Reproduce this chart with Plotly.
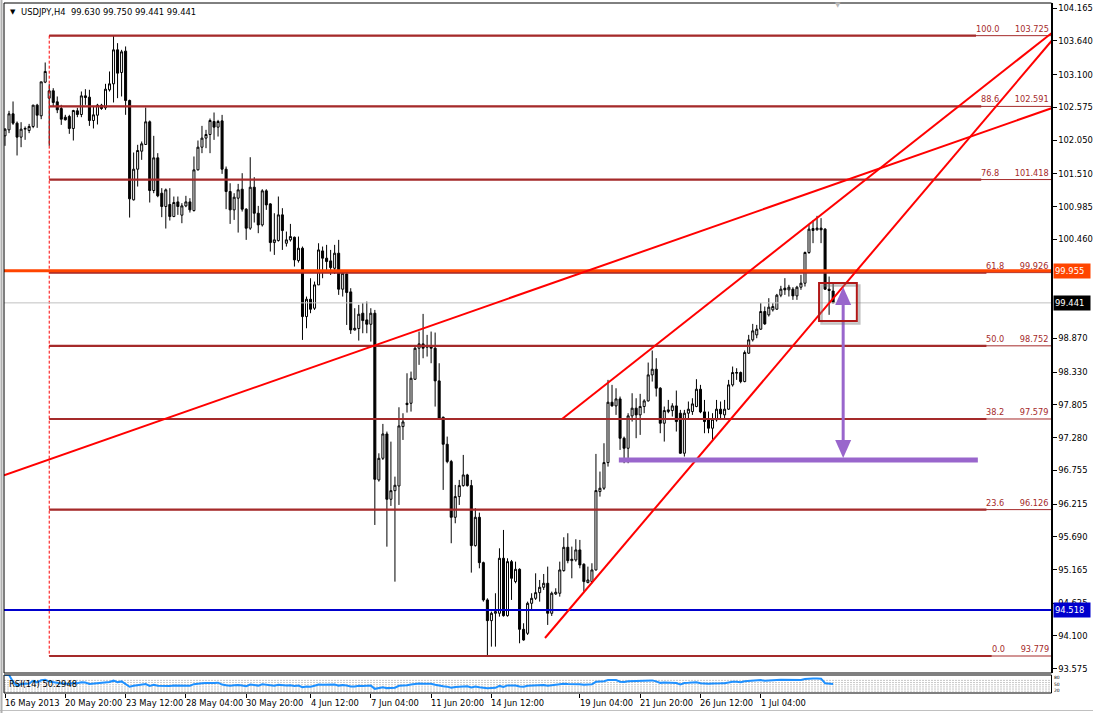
import numpy as np
import plotly.graph_objects as go

# ---------------- data ----------------
open_ = [102.119, 102.215, 102.472, 102.322, 102.098, 102.226, 102.205, 102.269, 102.611, 102.440,
         102.980, 102.723, 102.841, 102.664, 102.557, 102.418, 102.429, 102.237, 102.520, 102.461,
         102.760, 102.739, 102.365, 102.450, 102.611, 102.568, 102.857, 102.953, 103.498, 103.135,
         103.477, 102.686, 101.093, 101.584, 101.873, 101.980, 102.344, 101.242, 101.766, 101.199,
         100.986, 101.018, 100.825, 101.060, 100.847, 100.996, 101.060, 100.921, 101.574, 101.937,
         102.082, 102.140, 102.349, 102.258, 102.359, 101.584, 101.226, 100.932, 101.119, 101.263,
         100.943, 100.638, 101.295, 100.878, 100.691, 101.237, 101.028, 100.408, 100.440, 100.852,
         100.397, 100.451, 100.493, 100.119, 100.317, 99.221, 99.499, 99.355, 99.729, 100.274,
         100.157, 100.114, 99.996, 100.237, 99.660, 99.905, 99.617, 99.007, 99.029, 99.275,
         99.168, 99.098, 99.275, 96.602, 96.949, 97.339, 96.292, 96.430, 96.505, 97.457,
         97.831, 97.831, 98.216, 98.714, 98.783, 98.730, 98.751, 98.714, 98.190, 97.607,
         97.174, 96.896, 96.003, 96.335, 96.511, 96.682, 96.511, 95.549, 96.003, 95.276,
         94.678, 94.346, 94.464, 94.464, 95.346, 94.426, 95.292, 94.972, 95.169, 94.207,
         94.143, 94.624, 94.704, 94.795, 94.881, 94.945, 94.464, 94.774, 94.785, 95.148,
         95.522, 95.308, 95.319, 95.480, 95.250, 94.956, 94.972, 95.159, 96.415, 96.469,
         96.880, 97.848, 97.789, 97.901, 97.271, 97.110, 97.629, 97.752, 97.645, 97.779,
         97.869, 98.286, 98.377, 98.073, 97.511, 97.698, 97.714, 97.789, 97.672, 97.030,
         97.672, 97.698, 97.779, 98.056, 97.693, 97.565, 97.431, 97.565, 97.736, 97.645,
         97.736, 98.126, 98.313, 98.324, 98.179, 98.634, 98.848, 98.928, 99.019, 99.302,
         99.249, 99.329, 99.340, 99.564, 99.676, 99.650, 99.660, 99.553, 99.692, 99.756,
         100.248, 100.601, 100.612, 100.639, 100.623, 99.660, 99.630]
high = [102.242, 102.520, 102.670, 102.349, 102.338, 102.269, 102.311, 102.616, 102.632, 102.985,
        103.295, 102.948, 102.883, 102.750, 102.616, 102.456, 102.456, 102.536, 102.568, 102.830,
        102.867, 102.857, 102.589, 102.632, 102.632, 102.953, 103.151, 103.723, 103.605, 103.498,
        103.552, 102.700, 101.852, 101.975, 102.028, 102.573, 102.365, 102.119, 101.841, 101.280,
        101.274, 101.280, 101.146, 101.146, 101.039, 101.157, 101.119, 101.788, 102.044, 102.279,
        102.215, 102.397, 102.493, 102.375, 102.455, 101.627, 101.359, 101.199, 101.349, 101.520,
        100.959, 101.776, 101.456, 100.996, 101.263, 101.263, 101.040, 100.878, 101.146, 100.959,
        100.584, 100.707, 100.504, 100.504, 100.344, 99.542, 99.836, 99.782, 100.397, 100.344,
        100.371, 100.290, 100.371, 100.451, 99.943, 99.916, 99.676, 99.355, 99.408, 99.435,
        99.462, 99.355, 99.328, 97.029, 97.500, 97.377, 97.216, 96.655, 97.767, 97.671,
        98.312, 98.339, 98.740, 98.981, 99.264, 98.928, 98.981, 98.965, 98.473, 97.618,
        97.297, 96.923, 96.522, 96.602, 97.003, 96.700, 96.602, 96.148, 96.078, 95.292,
        94.704, 94.491, 94.785, 95.506, 95.800, 95.346, 95.319, 95.292, 95.185, 94.304,
        94.651, 94.785, 95.105, 94.998, 95.094, 95.212, 94.811, 94.865, 95.292, 95.683,
        95.747, 95.533, 95.651, 95.640, 95.266, 95.212, 95.266, 97.019, 96.736, 97.190,
        98.206, 98.126, 98.072, 97.939, 97.297, 97.672, 97.992, 97.912, 97.982, 97.896,
        98.484, 98.677, 98.554, 98.089, 97.779, 97.885, 97.832, 98.035, 97.725, 97.725,
        97.859, 97.912, 98.217, 98.126, 97.885, 97.698, 97.672, 97.885, 97.859, 97.885,
        98.206, 98.420, 98.393, 98.340, 98.677, 98.928, 99.104, 99.088, 99.436, 99.382,
        99.516, 99.436, 99.585, 99.714, 99.837, 99.730, 99.692, 99.714, 99.890, 100.264,
        100.692, 100.762, 100.836, 100.799, 100.639, 99.863, 99.750]
low = [101.959, 102.162, 102.295, 101.804, 101.937, 102.055, 102.162, 102.242, 102.247, 102.386,
       102.964, 101.959, 102.589, 102.483, 102.295, 102.365, 102.151, 102.044, 102.418, 102.418,
       102.616, 102.279, 102.237, 102.301, 102.536, 102.536, 102.830, 102.654, 102.723, 102.750,
       102.456, 100.809, 101.082, 101.306, 101.734, 101.975, 101.050, 101.199, 101.135, 100.815,
       100.633, 100.761, 100.815, 100.852, 100.718, 100.975, 100.889, 100.905, 101.563, 101.841,
       101.921, 101.841, 102.054, 102.108, 101.509, 100.943, 100.707, 100.771, 100.568, 100.905,
       100.451, 100.611, 100.729, 100.558, 100.665, 100.932, 100.264, 100.210, 100.424, 100.290,
       100.344, 100.424, 100.023, 100.087, 98.847, 99.034, 99.275, 99.328, 99.729, 99.836,
       99.943, 99.889, 99.905, 99.569, 99.542, 99.087, 98.943, 98.997, 98.836, 98.954,
       98.954, 98.820, 95.880, 96.575, 96.922, 95.532, 96.185, 94.971, 96.201, 97.243,
       97.682, 97.698, 98.205, 98.447, 98.553, 98.580, 98.473, 97.778, 97.565, 96.442,
       96.869, 95.587, 95.907, 96.201, 96.495, 96.495, 95.116, 95.533, 95.185, 94.651,
       93.769, 93.929, 93.929, 94.410, 94.410, 94.410, 94.678, 94.945, 93.983, 94.025,
       94.116, 94.517, 94.678, 94.651, 94.838, 94.277, 94.421, 94.758, 94.731, 95.132,
       95.266, 95.025, 95.292, 95.185, 94.811, 94.945, 94.945, 95.148, 96.335, 96.442,
       96.816, 97.778, 97.645, 97.083, 96.870, 96.870, 97.538, 97.271, 97.324, 97.672,
       97.859, 98.179, 97.939, 97.351, 97.217, 97.672, 97.618, 97.378, 97.019, 96.977,
       97.565, 97.645, 97.768, 97.672, 97.351, 97.351, 97.244, 97.538, 97.565, 97.592,
       97.725, 98.099, 98.206, 98.152, 98.168, 98.623, 98.821, 98.874, 99.008, 99.088,
       99.222, 99.302, 99.329, 99.532, 99.569, 99.543, 99.489, 99.489, 99.650, 99.703,
       100.227, 100.398, 100.601, 100.398, 99.650, 99.249, 99.441]
close = [102.226, 102.472, 102.322, 102.098, 102.226, 102.237, 102.269, 102.611, 102.450, 102.985,
         103.151, 102.841, 102.654, 102.536, 102.386, 102.376, 102.237, 102.525, 102.461, 102.760,
         102.734, 102.365, 102.456, 102.611, 102.557, 102.867, 102.953, 103.498, 103.124, 103.466,
         102.686, 101.109, 101.584, 101.884, 101.991, 102.344, 101.242, 101.766, 101.157, 100.986,
         101.253, 100.825, 101.050, 100.986, 100.996, 101.060, 100.932, 101.574, 101.937, 102.082,
         102.140, 102.365, 102.258, 102.349, 101.584, 101.226, 100.932, 101.135, 101.253, 100.943,
         100.638, 101.295, 100.878, 100.691, 101.237, 101.012, 100.408, 100.451, 100.852, 100.600,
         100.451, 100.504, 100.130, 100.317, 99.221, 99.499, 99.339, 99.729, 100.290, 100.157,
         100.103, 100.007, 100.237, 99.660, 99.916, 99.606, 99.007, 99.034, 99.259, 99.157,
         99.098, 99.275, 96.612, 96.949, 97.339, 96.292, 96.430, 96.516, 97.468, 97.532,
         97.810, 98.232, 98.713, 98.783, 98.714, 98.751, 98.714, 98.190, 97.591, 97.174,
         96.896, 96.003, 96.335, 96.511, 96.682, 96.511, 95.549, 96.003, 95.276, 94.678,
         94.346, 94.464, 94.491, 95.346, 94.426, 95.292, 95.025, 95.169, 94.207, 94.036,
         94.624, 94.704, 94.795, 94.881, 94.945, 94.464, 94.785, 94.801, 95.159, 95.522,
         95.308, 95.330, 95.480, 95.239, 94.972, 94.998, 95.159, 96.431, 96.469, 96.880,
         97.848, 97.789, 97.901, 97.270, 97.110, 97.629, 97.752, 97.645, 97.779, 97.869,
         98.286, 98.377, 98.073, 97.511, 97.714, 97.725, 97.789, 97.538, 97.030, 97.672,
         97.736, 97.821, 98.056, 97.693, 97.538, 97.431, 97.575, 97.736, 97.661, 97.736,
         98.126, 98.324, 98.324, 98.179, 98.645, 98.848, 98.992, 99.019, 99.302, 99.104,
         99.372, 99.382, 99.564, 99.660, 99.650, 99.692, 99.553, 99.692, 99.756, 100.248,
         100.623, 100.633, 100.639, 100.612, 99.660, 99.639, 99.441]

chart_title = "USDJPY,H4  99.630 99.750 99.441 99.441"
rsi_label = "RSI(14) 50.2948"

price_tick_vals = [104.165, 103.640, 103.100, 102.575, 102.050, 101.510, 100.985, 100.460,
                   98.870, 98.330, 97.805, 97.280, 96.755, 96.215, 95.690,
                   95.165, 94.625, 94.100, 93.575]
price_tick_text = ["%.3f" % v for v in price_tick_vals]

time_tick_bars = [0, 15, 30, 45, 60, 76, 91, 106, 121, 143, 158, 173, 188]
time_tick_labels = ["16 May 2013", "20 May 20:00", "23 May 12:00", "28 May 04:00",
                    "30 May 20:00", "4 Jun 12:00", "7 Jun 04:00", "11 Jun 20:00",
                    "14 Jun 12:00", "19 Jun 04:00", "21 Jun 20:00", "26 Jun 12:00",
                    "1 Jul 04:00"]

fib_level_names = ["100.0", "88.6", "76.8", "61.8", "50.0", "38.2", "23.6", "0.0"]
fib_level_prices = [103.725, 102.591, 101.418, 99.926, 98.752, 97.579, 96.126, 93.779]
fib_anchor_bar = 11

orange_level = 99.955
blue_level = 94.518
bid_level = 99.441

# trend lines as (bar0, price0, bar1, price1)
trend_lines = [(-0.25, 96.676, 260.32, 102.562),
               (138.56, 97.579, 260.32, 103.765),
               (134.33, 94.068, 260.32, 103.640)]

target_level = 96.923
target_bars = (152.7, 242.0)
arrow_bar = 208.5
arrow_prices = (99.695, 96.954)
box_bars = (202.5, 211.9)
box_prices = (99.150, 99.759)

rsi_axis_labels = ["80", "50", "20"]
rsi_axis_values = [88, 50, 12]
rsi_dot_levels = [70, 58, 46, 34, 22, 10]

# ---------------- geometry ----------------
W, H = 1093, 713
PX_L, PX_R = 4.0, 1051.5
PX_T, PX_B = 3.0, 673.0
RSI_T, RSI_B = 675.0, 693.0
BAR0_PX, BAR_PX = 5.0, 4.02
REF_PRICE, REF_PY, PX_PER_PRICE = 93.779, 656.0, 62.37

def px_to_bar(px):
    return (px - BAR0_PX) / BAR_PX

def py_to_price(py):
    return REF_PRICE + (REF_PY - py) / PX_PER_PRICE

x_range = [px_to_bar(PX_L), px_to_bar(PX_R)]
y_range = [py_to_price(PX_B), py_to_price(PX_T)]

FONT = "DejaVu Sans"
FS = 8.4
CW = {"d": 0.636, ".": 0.318}

def text_w(s, size):
    w = 0
    for ch in s:
        if ch.isdigit():
            w += CW["d"]
        elif ch in ".\u00a0 ":
            w += CW["."]
        else:
            w += 0.6
    return w * size

bars = list(range(len(close)))

# RSI(14), Wilder smoothing, computed from the closes
c = np.array(close)
d = np.diff(c)
g = np.where(d > 0, d, 0.0)
l = np.where(d < 0, -d, 0.0)
rsi = [np.nan]
ag = al = None
for k in range(len(d)):
    if k < 14:
        ag = g[:k + 1].mean()
        al = l[:k + 1].mean()
    else:
        ag = (ag * 13 + g[k]) / 14
        al = (al * 13 + l[k]) / 14
    rsi.append(100.0 if al == 0 else 100 - 100 / (1 + ag / al))
rsi[0] = rsi[1]

fig = go.Figure()
fig.add_trace(go.Candlestick(
    x=bars, open=open_, high=high, low=low, close=close,
    increasing=dict(line=dict(color="black", width=1), fillcolor="white"),
    decreasing=dict(line=dict(color="black", width=1), fillcolor="black"),
    whiskerwidth=0, hoverinfo="skip", xaxis="x", yaxis="y"))
fig.add_trace(go.Scatter(x=bars, y=rsi, mode="lines",
                         line=dict(color="#1E90FF", width=2),
                         hoverinfo="skip", xaxis="x2", yaxis="y2"))

shapes = []
annotations = []
FIB_COL = "#A52A2A"
FIB_FS = 8.2

# fib lines
for name, p in zip(fib_level_names, fib_level_prices):
    label = name + "\u00a0" * 6 + "%.3f" % p
    end_px = 1050 - text_w(label, FIB_FS) - 1
    shapes.append(dict(type="line", xref="x", yref="y", x0=fib_anchor_bar, x1=x_range[1],
                       y0=p, y1=p, line=dict(color=FIB_COL, width=1)))
    shapes.append(dict(type="line", xref="x", yref="y", x0=fib_anchor_bar, x1=px_to_bar(end_px),
                       y0=p, y1=p, line=dict(color=FIB_COL, width=2.2)))
    annotations.append(dict(xref="paper", yref="y", x=1050 / W, y=p, xanchor="right",
                            yanchor="bottom", text=label, showarrow=False, borderpad=0,
                            yshift=1, font=dict(family=FONT, size=FIB_FS, color=FIB_COL)))
shapes.append(dict(type="line", xref="x", yref="y", x0=fib_anchor_bar, x1=fib_anchor_bar,
                   y0=fib_level_prices[0], y1=fib_level_prices[-1],
                   line=dict(color="#FF0000", width=1, dash="3px,2px")))

# horizontal lines
shapes.append(dict(type="line", xref="x", yref="y", x0=x_range[0], x1=x_range[1],
                   y0=bid_level, y1=bid_level, line=dict(color="#C0C0C0", width=1)))
shapes.append(dict(type="line", xref="x", yref="y", x0=x_range[0], x1=x_range[1],
                   y0=orange_level, y1=orange_level, line=dict(color="#FF4500", width=3)))
shapes.append(dict(type="line", xref="x", yref="y", x0=x_range[0], x1=x_range[1],
                   y0=blue_level, y1=blue_level, line=dict(color="#0000CD", width=2)))

# trend lines
for b0, p0, b1, p1 in trend_lines:
    shapes.append(dict(type="line", xref="x", yref="y", x0=b0, y0=p0, x1=b1, y1=p1,
                       line=dict(color="#FF0000", width=2)))

# purple target line and arrow
PUR = "#9966CC"
shapes.append(dict(type="line", xref="x", yref="y", x0=target_bars[0], x1=target_bars[1],
                   y0=target_level, y1=target_level, line=dict(color=PUR, width=5)))
hw = 8 / BAR_PX
hl = 18 / PX_PER_PRICE
top, bot = arrow_prices
shapes.append(dict(type="line", xref="x", yref="y", x0=arrow_bar, x1=arrow_bar,
                   y0=top - hl + 0.02, y1=bot + hl - 0.02, line=dict(color=PUR, width=3)))
shapes.append(dict(type="path", xref="x", yref="y", fillcolor=PUR, line=dict(width=0),
                   path="M %f %f L %f %f L %f %f Z" % (arrow_bar, top, arrow_bar - hw, top - hl,
                                                        arrow_bar + hw, top - hl)))
shapes.append(dict(type="path", xref="x", yref="y", fillcolor=PUR, line=dict(width=0),
                   path="M %f %f L %f %f L %f %f Z" % (arrow_bar, bot, arrow_bar - hw, bot + hl,
                                                        arrow_bar + hw, bot + hl)))

# red box with shadow
sx = 2.5 / BAR_PX
sy = 2.5 / PX_PER_PRICE
shapes.append(dict(type="rect", xref="x", yref="y", x0=box_bars[0] + sx, x1=box_bars[1] + sx,
                   y0=box_prices[0] - sy, y1=box_prices[1] - sy,
                   line=dict(color="rgba(120,120,120,0.45)", width=2.5)))
shapes.append(dict(type="rect", xref="x", yref="y", x0=box_bars[0], x1=box_bars[1],
                   y0=box_prices[0], y1=box_prices[1], line=dict(color="#B01818", width=2)))

# pane borders
shapes.append(dict(type="rect", xref="x domain", yref="y domain", x0=0, x1=1, y0=0, y1=1,
                   line=dict(color="black", width=1)))
shapes.append(dict(type="rect", xref="x2 domain", yref="y2 domain", x0=0, x1=1, y0=0, y1=1,
                   line=dict(color="black", width=1)))
for lv in rsi_dot_levels:
    shapes.append(dict(type="line", xref="x2", yref="y2", x0=x_range[0], x1=x_range[1],
                       y0=lv, y1=lv, layer="below",
                       line=dict(color="#C8C8C8", width=1, dash="2px,1px")))
shapes.append(dict(type="line", xref="paper", yref="paper", x0=0, x1=1,
                   y0=1 - 710.5 / H, y1=1 - 710.5 / H, line=dict(color="#C0C0C0", width=1)))
shapes.append(dict(type="line", xref="paper", yref="paper", x0=1.5 / W, x1=1.5 / W,
                   y0=0, y1=1, line=dict(color="#B0B0B0", width=2)))

# price highlight boxes
for p, bg in [(orange_level, "#FF4500"), (bid_level, "black"), (blue_level, "#0000CD")]:
    annotations.append(dict(xref="paper", yref="y", x=1053 / W, y=p, xanchor="left",
                            yanchor="middle", text="%.3f" % p, showarrow=False, bgcolor=bg,
                            borderpad=1, width=34, height=12, align="left",
                            font=dict(family=FONT, size=FS, color="white")))

# title and markers
annotations.append(dict(xref="paper", yref="paper", x=8 / W, y=1 - 12 / H, xanchor="left",
                        yanchor="middle", text="\u25bc", showarrow=False,
                        font=dict(family=FONT, size=7, color="black")))
annotations.append(dict(xref="paper", yref="paper", x=19 / W, y=1 - 12 / H, xanchor="left",
                        yanchor="middle", text=chart_title, showarrow=False,
                        font=dict(family=FONT, size=FS, color="black")))
annotations.append(dict(xref="paper", yref="paper", x=838 / W, y=1 - 5 / H, xanchor="center",
                        yanchor="middle", text="\u25bc", showarrow=False,
                        font=dict(family=FONT, size=7, color="#B8B8B8")))

# RSI label and axis labels
annotations.append(dict(xref="paper", yref="paper", x=7 / W, y=1 - 684 / H, xanchor="left",
                        yanchor="middle", text=rsi_label, showarrow=False,
                        font=dict(family=FONT, size=FS, color="black")))
for t, v in zip(rsi_axis_labels, rsi_axis_values):
    annotations.append(dict(xref="paper", yref="y2", x=1053 / W, y=v, xanchor="left",
                            yanchor="middle", text=t, showarrow=False, borderpad=0,
                            font=dict(family=FONT, size=4.5, color="black")))

# time labels
for b, t in zip(time_tick_bars, time_tick_labels):
    annotations.append(dict(xref="x2", yref="paper", x=b, y=1 - 703 / H, xanchor="left",
                            yanchor="middle", text=t, showarrow=False, xshift=-2,
                            font=dict(family=FONT, size=FS, color="black")))

main_dom = [1 - PX_B / H, 1 - PX_T / H]
rsi_dom = [1 - RSI_B / H, 1 - RSI_T / H]
x_dom = [PX_L / W, PX_R / W]

fig.update_layout(
    width=W, height=H, margin=dict(l=0, r=0, t=0, b=0),
    paper_bgcolor="white", plot_bgcolor="white", showlegend=False,
    boxgap=0.28,
    xaxis=dict(domain=x_dom, range=x_range, anchor="y", showticklabels=False,
               showgrid=False, zeroline=False, showline=False, ticks="",
               rangeslider=dict(visible=False), fixedrange=True),
    yaxis=dict(domain=main_dom, range=y_range, anchor="x", side="right",
               tickmode="array", tickvals=price_tick_vals, ticktext=price_tick_text,
               ticks="outside", ticklen=4, tickcolor="black", showline=True,
               linecolor="black", linewidth=1, showgrid=False, zeroline=False,
               tickfont=dict(family=FONT, size=FS, color="black"), fixedrange=True),
    xaxis2=dict(domain=x_dom, range=x_range, anchor="y2", tickmode="array",
                tickvals=time_tick_bars, ticks="outside", ticklen=4, tickcolor="black",
                showticklabels=False, showgrid=False, zeroline=False, showline=False,
                fixedrange=True),
    yaxis2=dict(domain=rsi_dom, range=[0, 100], anchor="x2", showticklabels=False,
                ticks="", showgrid=False, zeroline=False, showline=False, fixedrange=True),
    shapes=shapes, annotations=annotations,
)

fig.write_html("out.html", config=dict(displayModeBar=False, staticPlot=True),
               post_script="document.body.style.margin='0';document.body.style.overflow='hidden';")
